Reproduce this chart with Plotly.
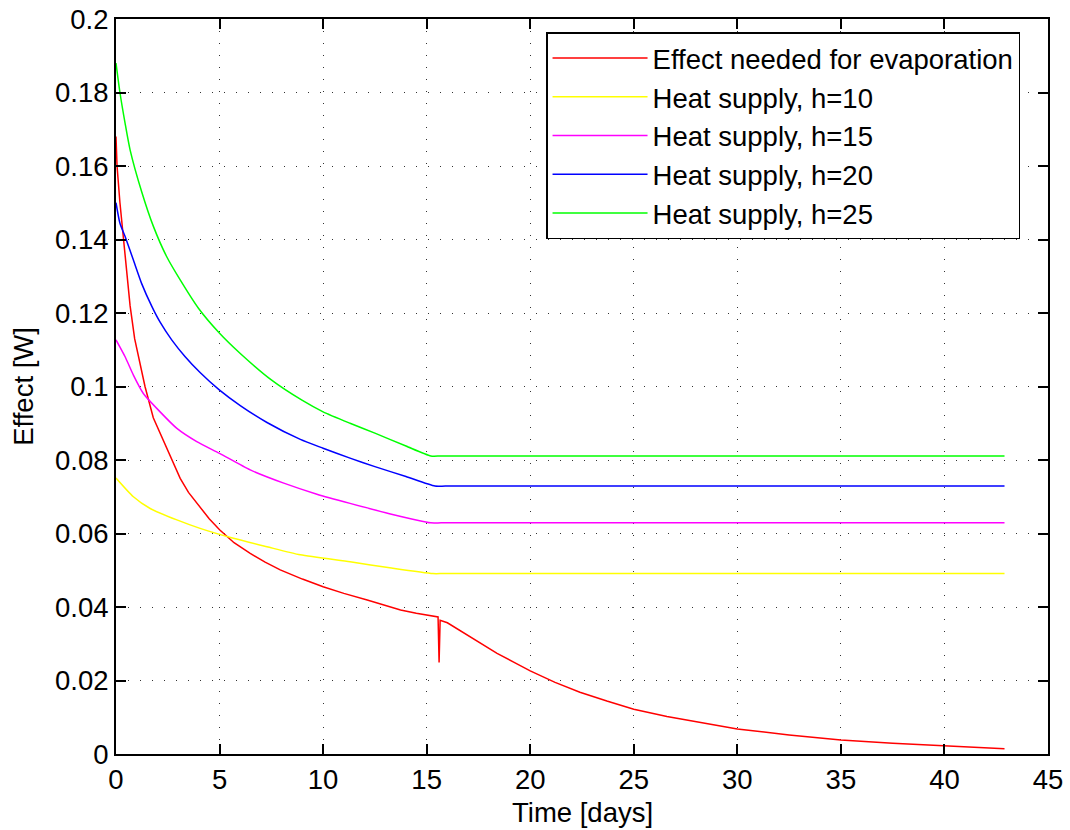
import plotly.graph_objects as go

# Effect needed for evaporation [W] over time [days]
evap_t = [0, 0.05, 0.19, 0.34, 0.5, 0.68, 0.9, 1.15, 1.4, 1.8, 2.29, 2.69, 3.1, 3.5,
          4.06, 4.5, 5.0, 5.7, 6.48, 7.2, 7.93, 9.0, 10.0, 11.0, 12.13, 13.0, 13.74,
          14.5, 15.0, 15.55, 15.6, 15.65, 16.0, 16.8, 17.6, 18.4, 19.2, 20.0, 21.2,
          22.4, 23.7, 25.0, 26.6, 28.3, 30.0, 32.5, 35.0, 37.5, 40.0, 42.9]
evap_w = [0.168, 0.160, 0.150, 0.141, 0.131, 0.122, 0.113, 0.106, 0.100, 0.0915,
          0.0854, 0.0800, 0.0750, 0.0712, 0.0672, 0.0640, 0.0610, 0.0575, 0.0546,
          0.0522, 0.0501, 0.0476, 0.0455, 0.0437, 0.0419, 0.0405, 0.0392, 0.0383,
          0.0378, 0.0373, 0.0249, 0.0364, 0.0357, 0.0330, 0.0301, 0.0274, 0.0250,
          0.0226, 0.0195, 0.0168, 0.0144, 0.0122, 0.0102, 0.0084, 0.0068, 0.0052,
          0.0038, 0.0029, 0.0022, 0.0014]

# Heat supply for different heat transfer coefficients h
# (each levels off after day ~15 and stays constant to the end)
h10_t = [0, 0.84, 1.65, 2.94, 4.06, 5.67, 7.29, 8.9, 11.3, 13.3, 15.3, 15.8, 20, 25,
         30, 35, 40, 42.9]
h10_w = [0.0751, 0.0700, 0.0668, 0.0637, 0.0614, 0.0587, 0.0564, 0.0542, 0.0523,
         0.0506, 0.0491, 0.0491, 0.0491, 0.0491, 0.0491, 0.0491, 0.0491, 0.0491]

h15_t = [0, 0.44, 0.84, 1.32, 2.13, 2.94, 3.9, 5.0, 6.48, 8.1, 9.7, 11.3, 13.2, 15.2,
         15.7, 20, 25, 30, 35, 40, 42.9]
h15_w = [0.1127, 0.1081, 0.1031, 0.0981, 0.0931, 0.0886, 0.0850, 0.0818, 0.0773,
         0.0737, 0.0707, 0.0682, 0.0654, 0.0629, 0.0629, 0.0629, 0.0629, 0.0629,
         0.0629, 0.0629, 0.0629]

h20_t = [0, 0.19, 0.44, 0.84, 1.24, 1.73, 2.13, 2.69, 3.34, 4.06, 5.0, 6.0, 7.29, 8.9,
         10.0, 11.3, 12.5, 14.0, 15.4, 15.9, 20, 25, 30, 35, 40, 42.9]
h20_w = [0.1500, 0.1444, 0.1408, 0.1344, 0.1280, 0.1218, 0.1175, 0.1127, 0.1081,
         0.1038, 0.0990, 0.0948, 0.0902, 0.0856, 0.0832, 0.0805, 0.0782, 0.0755,
         0.0729, 0.0729, 0.0729, 0.0729, 0.0729, 0.0729, 0.0729, 0.0729]

h25_t = [0, 0.19, 0.44, 0.68, 1.24, 1.81, 2.45, 3.1, 3.98, 5.0, 6.0, 7.5, 9.0, 10.0,
         11.3, 12.5, 14.0, 15.2, 15.7, 20, 25, 30, 35, 40, 42.9]
h25_w = [0.1880, 0.1800, 0.1716, 0.1644, 0.1530, 0.1435, 0.1353, 0.1290, 0.1213,
         0.1145, 0.1090, 0.1018, 0.0962, 0.0931, 0.0900, 0.0873, 0.0838, 0.0811,
         0.0811, 0.0811, 0.0811, 0.0811, 0.0811, 0.0811, 0.0811]

series = [
    ("Effect needed for evaporation", evap_t, evap_w, "#ff0000", "linear"),
    ("Heat supply, h=10", h10_t, h10_w, "#ffff00", "spline"),
    ("Heat supply, h=15", h15_t, h15_w, "#ff00ff", "spline"),
    ("Heat supply, h=20", h20_t, h20_w, "#0000ff", "spline"),
    ("Heat supply, h=25", h25_t, h25_w, "#00ff00", "spline"),
]

x_ticks = [0, 5, 10, 15, 20, 25, 30, 35, 40, 45]
y_ticks = [0, 0.02, 0.04, 0.06, 0.08, 0.1, 0.12, 0.14, 0.16, 0.18, 0.2]
y_tick_text = ["0", "0.02", "0.04", "0.06", "0.08", "0.1", "0.12", "0.14", "0.16",
               "0.18", "0.2"]

fig = go.Figure()
for name, t, w, color, shape in series:
    line = dict(color=color, width=1.5, shape=shape)
    if shape == "spline":
        line["smoothing"] = 0.6
    fig.add_trace(go.Scatter(x=t, y=w, mode="lines", name=name, line=line))

font = dict(family="Liberation Sans, Arial, sans-serif", size=27.5, color="black")
axis_common = dict(
    showline=True, linecolor="black", linewidth=2, mirror="ticks",
    ticks="inside", ticklen=10, tickwidth=1.5, tickcolor="black",
    showgrid=True, gridcolor="#333333", gridwidth=1, griddash="1px,11px",
    zeroline=False, tickfont=font, automargin=False,
)

fig.update_layout(
    width=1070, height=830,
    margin=dict(l=116, r=22, t=19, b=76, autoexpand=False),
    paper_bgcolor="white", plot_bgcolor="white",
    font=font,
    showlegend=True,
    legend=dict(
        x=0.970, y=0.982, xanchor="right", yanchor="top",
        bgcolor="white", bordercolor="black", borderwidth=1.5,
        font=font, itemwidth=95, tracegroupgap=0,
    ),
    xaxis=dict(range=[0, 45], tickvals=x_ticks, **axis_common),
    yaxis=dict(range=[0, 0.2], tickvals=y_ticks, ticktext=y_tick_text, **axis_common),
    annotations=[
        dict(text="Time [days]", xref="paper", yref="paper", x=0.5, y=-0.079,
             xanchor="center", yanchor="middle", showarrow=False, font=font),
        dict(text="Effect [W]", xref="paper", yref="paper", x=-0.0995, y=0.5,
             xanchor="center", yanchor="middle", textangle=-90, showarrow=False,
             font=font),
    ],
)

fig.write_html("out.html")
